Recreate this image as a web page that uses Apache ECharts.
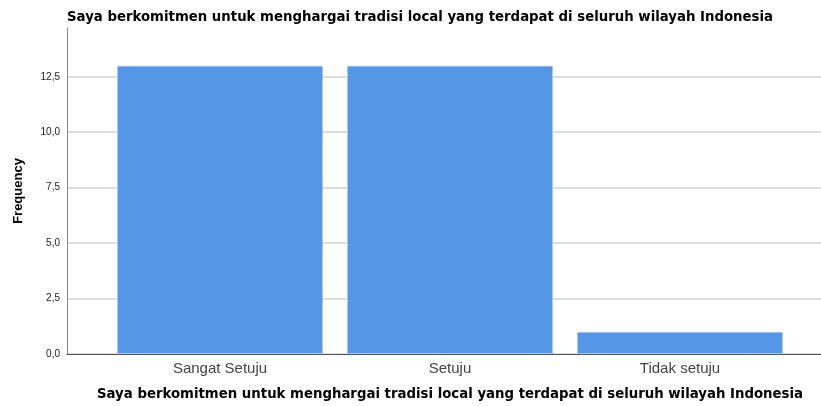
<!DOCTYPE html>
<html>
<head>
<meta charset="utf-8">
<script src="https://cdn.jsdelivr.net/npm/echarts@6/dist/echarts.min.js"></script>
<style>
  html, body { margin: 0; padding: 0; background: #fff; }
  #chart { width: 821px; height: 406px; }
</style>
</head>
<body>
<div id="chart"></div>
<script>
// data
const categories = ["Sangat Setuju", "Setuju", "Tidak setuju"];
const frequency = [13, 13, 1];
const chartTitle = "Saya berkomitmen untuk menghargai tradisi local yang terdapat di seluruh wilayah Indonesia";
const yName = "Frequency";

const yMax = 14.7;
const fontFamily = "'Liberation Sans', Arial, sans-serif";
const boldFont = "'DejaVu Sans', Verdana, sans-serif";

const chart = echarts.init(document.getElementById("chart"));

function tickLabel(v) {
  if (Math.abs(v / 2.5 - Math.round(v / 2.5)) > 1e-6) return "";
  return v.toFixed(1).replace(".", ",");
}

chart.setOption({
  animation: false,
  title: {
    text: chartTitle,
    left: 62,
    top: 6,
    textStyle: { fontFamily: boldFont, fontSize: 13.3, fontWeight: "bold", color: "#000" }
  },
  grid: [
    { left: 67, right: 0, top: 28, bottom: 52, outerBoundsMode: "none" },
    { left: 105, right: 26, top: 28, bottom: 52, outerBoundsMode: "none" }
  ],
  xAxis: [
    {
      gridIndex: 0,
      type: "category",
      data: categories,
      axisLine: { show: true, lineStyle: { color: "#555", width: 1 } },
      axisTick: { show: false },
      axisLabel: { show: false },
      splitLine: { show: false }
    },
    {
      gridIndex: 1,
      type: "category",
      data: categories,
      axisLine: { show: false },
      axisTick: { show: false },
      axisLabel: { margin: 7, fontFamily: fontFamily, fontSize: 15, color: "#444" },
      name: chartTitle,
      nameLocation: "middle",
      nameGap: 34,
      nameTextStyle: { fontFamily: boldFont, fontSize: 13.3, fontWeight: "bold", color: "#000" }
    }
  ],
  yAxis: [
    {
      gridIndex: 0,
      type: "value",
      min: 0,
      max: yMax,
      interval: 2.5,
      axisLine: { show: true, lineStyle: { color: "#888", width: 1 } },
      axisTick: { show: false },
      axisLabel: { formatter: tickLabel, fontFamily: fontFamily, fontSize: 10, color: "#222", margin: 7, showMaxLabel: false },
      splitLine: {
        show: true,
        lineStyle: { color: ["#ddd", "#ddd", "#ddd", "#ddd", "#ddd", "#ddd", "rgba(0,0,0,0)"], width: 2 }
      },
      name: yName,
      nameLocation: "middle",
      nameGap: 42,
      nameTextStyle: { fontFamily: fontFamily, fontSize: 13, fontWeight: "bold", color: "#000" }
    },
    {
      gridIndex: 1,
      type: "value",
      min: 0,
      max: yMax,
      show: false
    }
  ],
  series: [
    {
      type: "bar",
      xAxisIndex: 1,
      yAxisIndex: 1,
      data: frequency,
      barWidth: 206,
      itemStyle: { color: "#5596e6", borderColor: "#a7c8f0", borderWidth: 1 }
    }
  ]
});
</script>
</body>
</html>
